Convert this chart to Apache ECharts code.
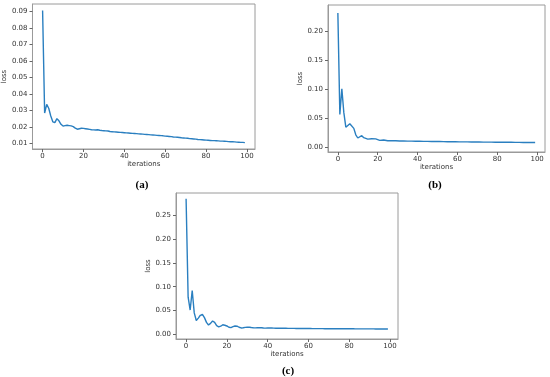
<!DOCTYPE html>
<html>
<head>
<meta charset="utf-8">
<script src="https://cdn.jsdelivr.net/npm/echarts@6/dist/echarts.min.js"></script>
<style>html,body{margin:0;padding:0;background:#fff}#c{width:550px;height:377px}</style>
</head>
<body>
<div id="c"></div>
<script>
const iterations = Array.from({length: 100}, (_, i) => i);
const xTicks = [0, 20, 40, 60, 80, 100];
const yTicksA = [0.01, 0.02, 0.03, 0.04, 0.05, 0.06, 0.07, 0.08, 0.09];
const yTicksB = [0.00, 0.05, 0.10, 0.15, 0.20];
const yTicksC = [0.00, 0.05, 0.10, 0.15, 0.20, 0.25];
const captions = ['a', 'b', 'c'];

const lossA = [0.0905,0.0283,0.0336,0.0312,0.0265,0.0230,0.0225,0.0249,0.0236,0.0215,
0.0204,0.0207,0.0209,0.0207,0.0205,0.0201,0.0192,0.0185,0.0188,0.0191,
0.0190,0.0188,0.0186,0.0184,0.0182,0.0181,0.0180,0.0182,0.0179,0.0177,
0.0176,0.0175,0.0174,0.0171,0.0170,0.0169,0.0168,0.0167,0.0166,0.0165,
0.0164,0.0163,0.0162,0.0161,0.0160,0.0159,0.0158,0.0157,0.0156,0.0155,
0.0154,0.0153,0.0152,0.0151,0.0150,0.0149,0.0148,0.0147,0.0146,0.0145,
0.0143,0.0142,0.0141,0.0140,0.0138,0.0137,0.0136,0.0135,0.0133,0.0132,
0.0131,0.0130,0.0128,0.0127,0.0126,0.0125,0.0123,0.0122,0.0121,0.0120,
0.0119,0.0118,0.0117,0.0116,0.0116,0.0115,0.0114,0.0113,0.0113,0.0112,
0.0111,0.0110,0.0109,0.0109,0.0108,0.0107,0.0106,0.0105,0.0105,0.0104];

const lossB = [0.231,0.057,0.101,0.060,0.035,0.034,0.041,0.042,0.033,0.022,
0.0165,0.018,0.0205,0.017,0.0143,0.0145,0.0150,0.0152,0.0150,0.0150,
0.0130,0.0125,0.0122,0.0130,0.0128,0.0118,0.0112,0.0118,0.0122,0.0118,
0.0115,0.0114,0.0113,0.0113,0.0112,0.0112,0.0111,0.0111,0.0110,0.0110,
0.0109,0.0109,0.0108,0.0108,0.0107,0.0107,0.0106,0.0106,0.0105,0.0105,
0.0104,0.0104,0.0103,0.0103,0.0102,0.0102,0.0101,0.0101,0.0100,0.0100,
0.0100,0.0099,0.0099,0.0099,0.0098,0.0098,0.0098,0.0097,0.0097,0.0097,
0.0096,0.0096,0.0096,0.0095,0.0095,0.0095,0.0094,0.0094,0.0094,0.0093,
0.0093,0.0093,0.0092,0.0092,0.0092,0.0091,0.0091,0.0091,0.0090,0.0090,
0.0090,0.0090,0.0089,0.0089,0.0089,0.0089,0.0088,0.0088,0.0088,0.0088];

const lossC = [0.285,0.078,0.051,0.092,0.045,0.029,0.034,0.040,0.042,0.035,
0.025,0.0195,0.023,0.028,0.025,0.018,0.0155,0.017,0.020,0.019,
0.0175,0.0148,0.014,0.016,0.0175,0.017,0.0148,0.0133,0.0138,0.0145,
0.0150,0.0148,0.0142,0.0137,0.0135,0.0138,0.0140,0.0137,0.0132,0.0130,
0.0131,0.0132,0.0131,0.0129,0.0128,0.0128,0.0127,0.0127,0.0126,0.0126,
0.0125,0.0125,0.0124,0.0124,0.0123,0.0123,0.0123,0.0122,0.0122,0.0121,
0.0121,0.0121,0.0120,0.0120,0.0120,0.0119,0.0119,0.0119,0.0118,0.0118,
0.0118,0.0117,0.0117,0.0117,0.0117,0.0116,0.0116,0.0116,0.0116,0.0115,
0.0115,0.0115,0.0115,0.0114,0.0114,0.0114,0.0114,0.0114,0.0113,0.0113,
0.0113,0.0113,0.0113,0.0112,0.0112,0.0112,0.0112,0.0112,0.0112,0.0112];

const FONT = 'DejaVu Sans';
const TXT = '#333';
const SPINE = '#9a9a9a';

function xAxisFor(g) {
  return {
    type: 'value', gridIndex: g, min: -4.95, max: 103.95,
    axisLine: {show: true, onZero: false, lineStyle: {color: SPINE}},
    axisTick: {show: true, customValues: xTicks, length: 3, lineStyle: {color: '#666'}},
    axisLabel: {customValues: xTicks, fontSize: 7, fontFamily: FONT, color: TXT, margin: 4},
    splitLine: {show: false},
    name: 'iterations', nameLocation: 'middle', nameGap: 12,
    nameTextStyle: {fontSize: 7, fontFamily: FONT, color: TXT}
  };
}
function yAxisFor(g, min, max, ticks) {
  return {
    type: 'value', gridIndex: g, min: min, max: max,
    axisLine: {show: true, onZero: false, lineStyle: {color: SPINE}},
    axisTick: {show: true, customValues: ticks, length: 3, lineStyle: {color: '#666'}},
    axisLabel: {customValues: ticks, fontSize: 7, fontFamily: FONT, color: TXT, margin: 5,
      formatter: v => v.toFixed(2)},
    splitLine: {show: false},
    name: 'loss', nameLocation: 'middle', nameGap: 22, nameRotate: 90,
    nameTextStyle: {fontSize: 7, fontFamily: FONT, color: TXT}
  };
}
function seriesFor(g, vals) {
  return {
    type: 'line', xAxisIndex: g, yAxisIndex: g, symbol: 'none', smooth: false,
    lineStyle: {color: '#2a7fc0', width: 1.4},
    data: iterations.map((it, i) => [it, vals[i]])
  };
}
function captionFor(letter, x, y) {
  return {
    text: '{p|(}{b|' + letter + '}{p|)}', left: x, top: y, textAlign: 'center',
    textStyle: {rich: {
      p: {fontFamily: 'Liberation Serif', fontSize: 11, color: '#000'},
      b: {fontFamily: 'Liberation Serif', fontSize: 11, fontWeight: 'bold', color: '#000'}
    }}
  };
}

const chart = echarts.init(document.getElementById('c'), null, {renderer: 'canvas'});
chart.setOption({
  backgroundColor: '#fff',
  animation: false,
  title: [captionFor(captions[0], 137, 175), captionFor(captions[1], 430, 175), captionFor(captions[2], 283, 361)],
  grid: [
    {left: 32, top: 4, width: 223, height: 145, show: true, borderColor: SPINE, borderWidth: 1},
    {left: 328, top: 5, width: 217, height: 147, show: true, borderColor: SPINE, borderWidth: 1},
    {left: 176, top: 193, width: 222, height: 146, show: true, borderColor: SPINE, borderWidth: 1}
  ],
  xAxis: [xAxisFor(0), xAxisFor(1), xAxisFor(2)],
  yAxis: [
    yAxisFor(0, 0.0065, 0.0945, yTicksA),
    yAxisFor(1, -0.0075, 0.2446, yTicksB),
    yAxisFor(2, -0.0099, 0.297, yTicksC)
  ],
  series: [seriesFor(0, lossA), seriesFor(1, lossB), seriesFor(2, lossC)]
});
</script>
</body>
</html>
